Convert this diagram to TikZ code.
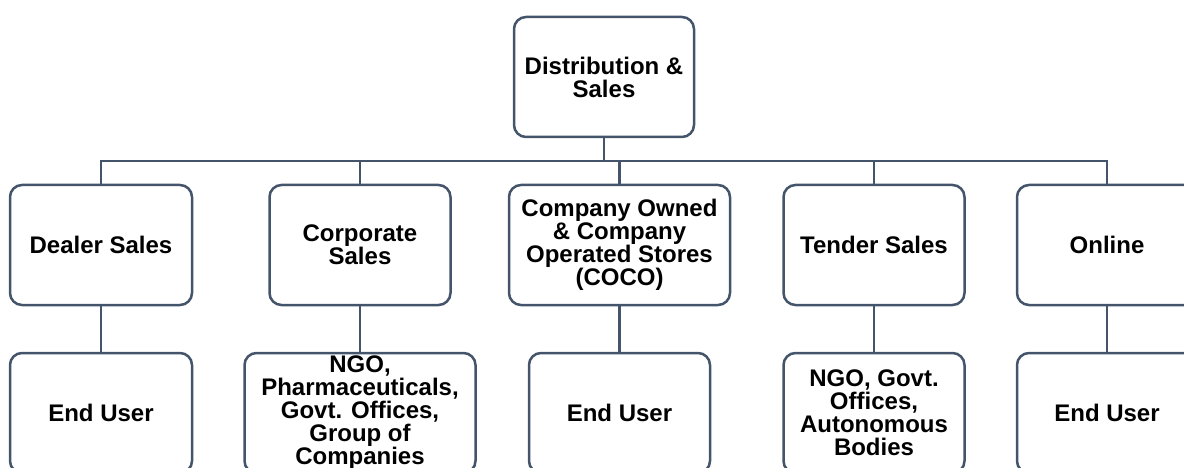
\documentclass[tikz,border=0pt]{standalone}
\usepackage{fontspec}
\setmainfont{Liberation Sans}
\definecolor{linec}{HTML}{44546A}
\begin{document}
\begin{tikzpicture}[x=1pt,y=-1pt,
  box/.style={draw=linec, line width=2.5pt, rounded corners=12pt, fill=white,
    minimum height=120pt, inner sep=0pt, align=center,
    font=\fontsize{24}{23}\selectfont\bfseries, text=black},
  conn/.style={draw=linec, line width=2.5pt}]
\useasboundingbox (0,0) rectangle (1184,468);
\clip (0,0) rectangle (1184,468);
% top
\node[box, minimum width=180pt] (top) at (604,77) {Distribution \&\\Sales};
% level 2
\node[box, minimum width=182pt] (dealer) at (101,245) {Dealer Sales};
\node[box, minimum width=181pt] (corp) at (360,245) {Corporate\\Sales};
\node[box, minimum width=221pt] (coco) at (619.5,245) {Company Owned\\\& Company\\Operated Stores\\(COCO)};
\node[box, minimum width=181pt] (tender) at (874,245) {Tender Sales};
\node[box, minimum width=180pt] (online) at (1107,245) {Online};
% level 3
\node[box, minimum width=182pt] (dealerEU) at (101,413) {End User};
\node[box, minimum width=231pt] (corpC) at (360,413) {NGO,\\Pharmaceuticals,\\Govt. Offices,\\Group of\\Companies};
\node[box, minimum width=181pt] (cocoEU) at (619.5,413) {End User};
\node[box, minimum width=181pt] (tenderC) at (874,413) {NGO, Govt.\\Offices,\\Autonomous\\Bodies};
\node[box, minimum width=180pt] (onlineEU) at (1107,413) {End User};
% connectors
\coordinate (bus) at (604,161);
\foreach \c in {dealer,corp,coco,tender,online}{
  \draw[conn] (top.south) -- (bus) -| (\c.north);
}
\draw[conn] (dealer.south) -- (dealerEU.north);
\draw[conn] (corp.south) -- (corpC.north);
\draw[conn] (coco.south) -- (cocoEU.north);
\draw[conn] (tender.south) -- (tenderC.north);
\draw[conn] (online.south) -- (onlineEU.north);
\end{tikzpicture}
\end{document}
